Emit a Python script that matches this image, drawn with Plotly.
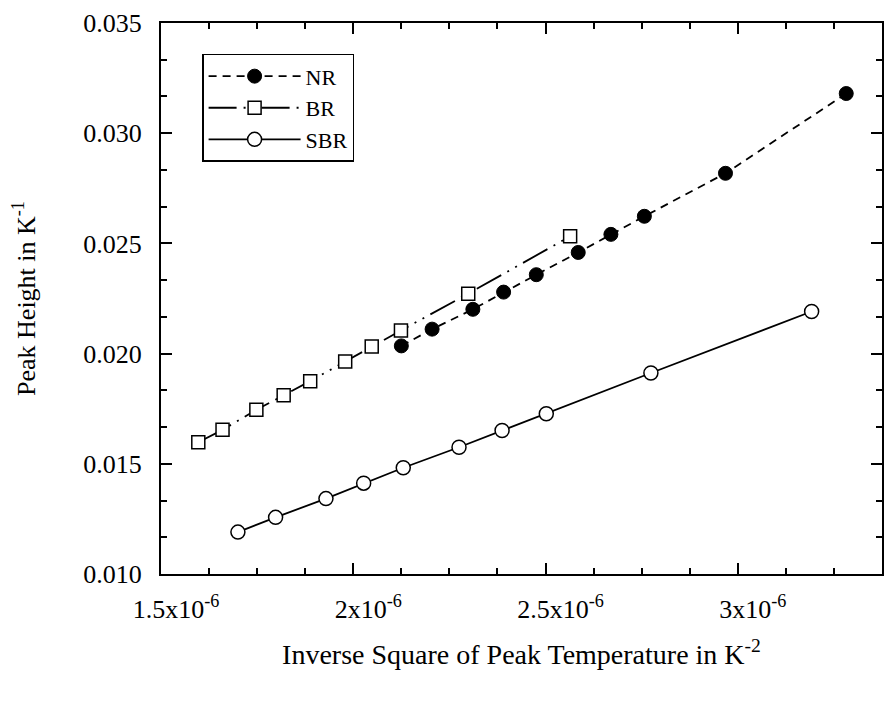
import plotly.graph_objects as go

# ---- data ----
nr_x = [2.125e-6, 2.205e-6, 2.311e-6, 2.391e-6, 2.476e-6, 2.585e-6, 2.670e-6, 2.757e-6, 2.968e-6, 3.282e-6]
nr_y = [0.02035, 0.02111, 0.02201, 0.02279, 0.02358, 0.02459, 0.02541, 0.02623, 0.02818, 0.03180]

br_x = [1.597e-6, 1.660e-6, 1.748e-6, 1.819e-6, 1.888e-6, 1.979e-6, 2.048e-6, 2.124e-6, 2.299e-6, 2.564e-6]
br_y = [0.01598, 0.01654, 0.01745, 0.01811, 0.01875, 0.01964, 0.02032, 0.02105, 0.02272, 0.02532]

sbr_x = [1.700e-6, 1.798e-6, 1.929e-6, 2.027e-6, 2.130e-6, 2.275e-6, 2.387e-6, 2.502e-6, 2.774e-6, 3.192e-6]
sbr_y = [0.0119, 0.01257, 0.01342, 0.01412, 0.01482, 0.01575, 0.01651, 0.01727, 0.01912, 0.02191]

x_tickvals = [1.5e-6, 2.0e-6, 2.5e-6, 3.0e-6]
x_ticktext = ["1.5x10<sup>-6</sup>", "2x10<sup>-6</sup>", "2.5x10<sup>-6</sup>", "3x10<sup>-6</sup>"]
y_tickvals = [0.010, 0.015, 0.020, 0.025, 0.030, 0.035]
y_ticktext = ["0.010", "0.015", "0.020", "0.025", "0.030", "0.035"]

FONT = "Liberation Serif, Times New Roman, serif"

fig = go.Figure()
fig.add_trace(go.Scatter(
    x=nr_x, y=nr_y, name="NR", mode="lines+markers",
    line=dict(color="black", width=1.8, dash="8px,6px"),
    marker=dict(symbol="circle", size=14, color="black", line=dict(color="black", width=1)),
))
fig.add_trace(go.Scatter(
    x=br_x, y=br_y, name="BR", mode="lines+markers",
    line=dict(color="black", width=1.8, dash="28px,7px,2px,7px,2px,7px"),
    marker=dict(symbol="square", size=13, color="white", line=dict(color="black", width=1.5)),
))
fig.add_trace(go.Scatter(
    x=sbr_x, y=sbr_y, name="SBR", mode="lines+markers",
    line=dict(color="black", width=1.8),
    marker=dict(symbol="circle", size=14, color="white", line=dict(color="black", width=1.5)),
))

axis_common = dict(
    showline=True, linecolor="black", linewidth=2, mirror="ticks",
    ticks="inside", ticklen=11, tickwidth=2, tickcolor="black",
    showgrid=False, zeroline=False,
    tickfont=dict(family=FONT, size=26, color="black"),
)

fig.update_xaxes(
    range=[1.5e-6, 3.375e-6],
    tickmode="array", tickvals=x_tickvals, ticktext=x_ticktext,
    ticklabelshift=15, ticklabelstandoff=11,
    minor=dict(tick0=1.5e-6, dtick=0.125e-6, ticks="inside", ticklen=6, tickwidth=2, tickcolor="black"),
    title=dict(text="Inverse Square of Peak Temperature in K<sup>-2</sup>",
               font=dict(family=FONT, size=28, color="black"), standoff=21),
    **axis_common,
)
fig.update_yaxes(
    range=[0.010, 0.035],
    tickmode="array", tickvals=y_tickvals, ticktext=y_ticktext,
    ticklabelstandoff=12,
    minor=dict(tick0=0.010, dtick=0.005 / 3, ticks="inside", ticklen=6, tickwidth=2, tickcolor="black"),
    title=dict(text="Peak Height in K<sup>-1</sup>",
               font=dict(family=FONT, size=26, color="black"), standoff=40),
    **axis_common,
)

fig.update_layout(
    width=893, height=701,
    margin=dict(l=161, r=9, t=17, b=127),
    plot_bgcolor="white", paper_bgcolor="white",
    font=dict(family=FONT, color="black"),
    showlegend=True,
    legend=dict(
        x=0.057, y=0.944, xanchor="left", yanchor="top",
        bordercolor="black", borderwidth=1.5, bgcolor="white",
        font=dict(family=FONT, size=22, color="black"),
        itemwidth=92, tracegroupgap=0,
        entrywidth=60, entrywidthmode="pixels",
    ),
)

fig.write_html("out.html")
